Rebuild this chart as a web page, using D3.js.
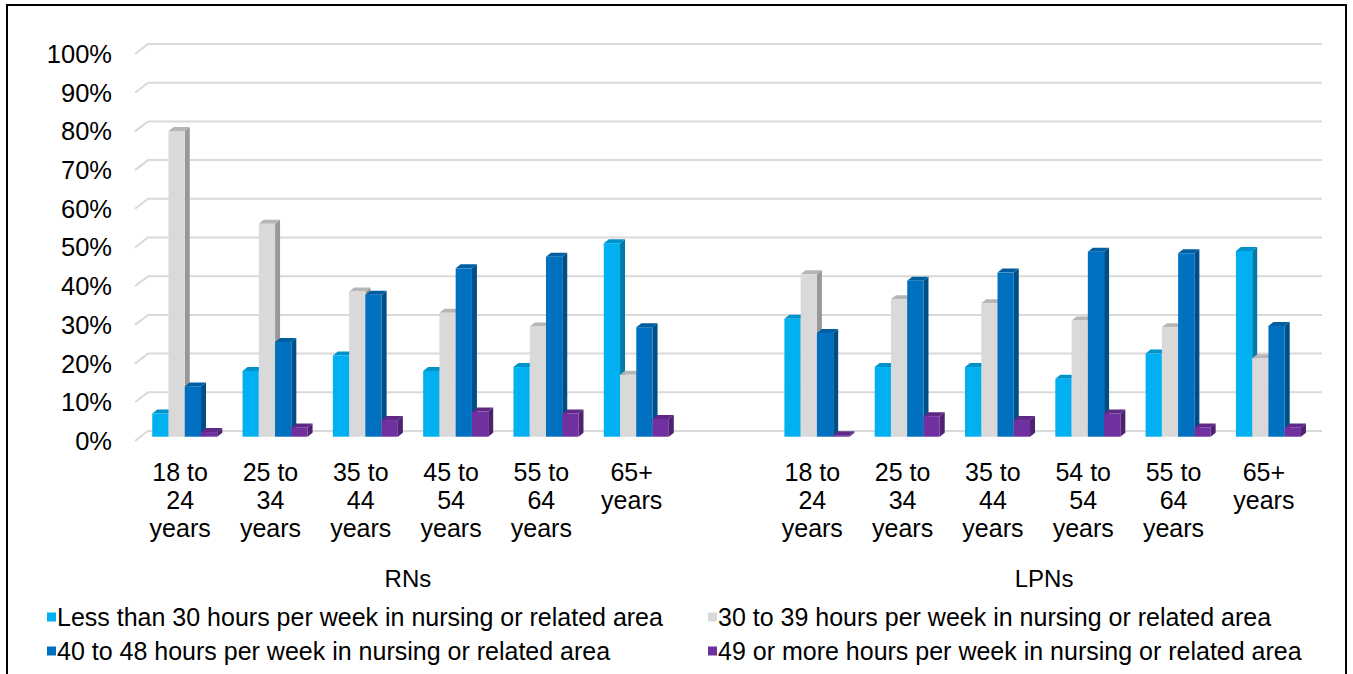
<!DOCTYPE html>
<html>
<head>
<meta charset="utf-8">
<script src="https://cdn.jsdelivr.net/npm/d3@7"></script>
<style>
  body { margin: 0; background: #fff; }
  text { font-family: "Liberation Sans", Arial, sans-serif; fill: #000; }
</style>
</head>
<body>
<div id="chart"></div>
<script>
// categories
var rnAges = ["18 to 24 years", "25 to 34 years", "35 to 44 years", "45 to 54 years", "55 to 64 years", "65+ years"];
var lpnAges = ["18 to 24 years", "25 to 34 years", "35 to 44 years", "54 to 54 years", "55 to 64 years", "65+ years"];
var groups = ["RNs", "LPNs"];
var seriesNames = [
  "Less than 30 hours per week in nursing or related area",
  "30 to 39 hours per week in nursing or related area",
  "40 to 48 hours per week in nursing or related area",
  "49 or more hours per week in nursing or related area"
];
var colors = ["#00B0F0", "#D9D9D9", "#0070C0", "#7030A0"];

// values (%), one array per series and group
var rnLess30  = [6, 17, 21, 17, 18, 50];
var rn30to39  = [79, 55, 37.5, 32, 28.5, 16];
var rn40to48  = [13, 24.5, 36.7, 43.5, 46.5, 28.3];
var rn49plus  = [1.2, 2.4, 4.3, 6.5, 6, 4.6];
var lpnLess30 = [30.5, 18, 18, 15, 21.5, 48];
var lpn30to39 = [42, 35.5, 34.5, 30, 28.3, 20.3];
var lpn40to48 = [26.8, 40.3, 42.4, 47.8, 47.4, 28.6];
var lpn49plus = [0.4, 5.3, 4.3, 6, 2.4, 2.4];

var yTicks = [0, 10, 20, 30, 40, 50, 60, 70, 80, 90, 100];

// build rows: RN categories, one empty slot, LPN categories
var rows = [];
rnAges.forEach(function(a, i) {
  rows.push({key: "RN" + i, label: a, values: [rnLess30[i], rn30to39[i], rn40to48[i], rn49plus[i]]});
});
rows.push({key: "gap", label: "", values: []});
lpnAges.forEach(function(a, i) {
  rows.push({key: "LPN" + i, label: a, values: [lpnLess30[i], lpn30to39[i], lpn40to48[i], lpn49plus[i]]});
});

var W = 1353, H = 674;
// 3D offsets
var floorDx = -13, floorDy = 10;   // front edge of floor vs back wall
var barDx = -8.4, barDy = 5.7;     // bar front face vs back wall
var depthX = 5, depthY = -4;       // bar depth

var svg = d3.select("#chart").append("svg")
  .attr("width", W)
  .attr("height", H);

// outer frame
svg.append("rect")
  .attr("x", 7).attr("y", 5)
  .attr("width", 1339).attr("height", 720)
  .style("fill", "none")
  .style("stroke", "#000")
  .style("stroke-width", 2);

// scales (back wall)
var y = d3.scaleLinear().domain([0, 100]).range([431, 44]);
var x = d3.scaleBand().domain(rows.map(function(d) { return d.key; })).range([148, 1322]);
var xs = d3.scaleBand().domain(d3.range(seriesNames.length)).range([0, x.bandwidth() * 0.72]);

// gridlines with diagonal on the side wall
var grid = svg.append("g");
yTicks.forEach(function(t) {
  grid.append("path")
    .attr("d", "M" + (148 + floorDx) + "," + (y(t) + floorDy) + "L148," + y(t) + "L1322," + y(t))
    .style("fill", "none")
    .style("stroke", "#d9d9d9")
    .style("stroke-width", 2);
});

// y labels
svg.append("g").selectAll("text")
  .data(yTicks)
  .enter().append("text")
  .attr("x", 112)
  .attr("y", function(d) { return y(d) + floorDy; })
  .attr("dy", "0.35em")
  .attr("text-anchor", "end")
  .style("font-size", "25.5px")
  .text(function(d) { return d + "%"; });

// bars
var bars = svg.append("g");
rows.forEach(function(r) {
  var gx = x(r.key) + x.bandwidth() / 2 - xs.range()[1] / 2 + barDx;
  r.values.forEach(function(v, i) {
    var c = d3.color(colors[i]);
    var x0 = gx + xs(i), x1 = x0 + xs.bandwidth();
    var yb = y(0) + barDy, yt = y(v) + barDy;
    // side face
    bars.append("path")
      .attr("d", "M" + x1 + "," + yt + "L" + (x1 + depthX) + "," + (yt + depthY) +
        "L" + (x1 + depthX) + "," + (yb + depthY) + "L" + x1 + "," + yb + "Z")
      .style("fill", c.darker(1));
    // top face
    bars.append("path")
      .attr("d", "M" + x0 + "," + yt + "L" + (x0 + depthX) + "," + (yt + depthY) +
        "L" + (x1 + depthX) + "," + (yt + depthY) + "L" + x1 + "," + yt + "Z")
      .style("fill", c.darker(0.5));
    // front face
    bars.append("rect")
      .attr("x", x0).attr("y", yt)
      .attr("width", xs.bandwidth())
      .attr("height", yb - yt)
      .style("fill", colors[i]);
  });
});

// category labels (wrapped)
var catG = svg.append("g");
rows.forEach(function(r) {
  if (!r.label) return;
  var cx = x(r.key) + x.bandwidth() / 2 + floorDx;
  var t = catG.append("text")
    .attr("text-anchor", "middle")
    .style("font-size", "25px");
  var words = r.label.split(" "), line = [], lines = [];
  var probe = t.append("tspan");
  words.forEach(function(w) {
    line.push(w);
    probe.text(line.join(" "));
    if (probe.node().getComputedTextLength() > 80 && line.length > 1) {
      line.pop();
      lines.push(line.join(" "));
      line = [w];
    }
  });
  lines.push(line.join(" "));
  probe.remove();
  lines.forEach(function(l, k) {
    t.append("tspan")
      .attr("x", cx)
      .attr("y", 472 + k * 28.3)
      .attr("dy", "0.35em")
      .text(l);
  });
});

// group labels
var groupCenters = [
  (x("RN0") + x("RN5") + x.bandwidth()) / 2 + floorDx + 2,
  (x("LPN0") + x("LPN5") + x.bandwidth()) / 2 + floorDx + 6
];
svg.append("g").selectAll("text")
  .data(groups)
  .enter().append("text")
  .attr("x", function(d, i) { return groupCenters[i]; })
  .attr("y", 579)
  .attr("dy", "0.35em")
  .attr("text-anchor", "middle")
  .style("font-size", "24px")
  .text(function(d) { return d; });

// legend
var legendPos = [[47, 617], [708, 617], [47, 651], [708, 651]];
var leg = svg.append("g").selectAll("g")
  .data(seriesNames)
  .enter().append("g")
  .attr("transform", function(d, i) { return "translate(" + legendPos[i][0] + "," + legendPos[i][1] + ")"; });
leg.append("rect")
  .attr("x", 0).attr("y", -4.5)
  .attr("width", 9).attr("height", 9)
  .style("fill", function(d, i) { return colors[i]; });
leg.append("text")
  .attr("x", 10)
  .attr("dy", "0.35em")
  .style("font-size", "25px")
  .text(function(d) { return d; });
</script>
</body>
</html>
